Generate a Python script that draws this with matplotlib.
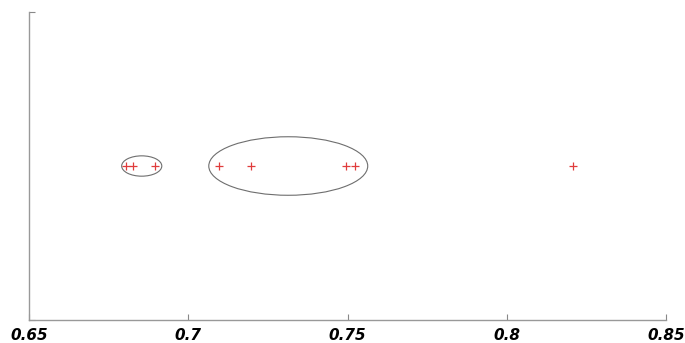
import matplotlib
matplotlib.use("Agg")
import matplotlib.pyplot as plt
from matplotlib.patches import Ellipse

# data
x_values = [0.6804, 0.6827, 0.6895, 0.7096, 0.7196, 0.7494, 0.7523, 0.8208]
y_values = [0.5, 0.5, 0.5, 0.5, 0.5, 0.5, 0.5, 0.5]
cluster_centers = [0.6854, 0.7314]
cluster_widths = [0.0126, 0.0499]
cluster_heights = [0.066, 0.19]
x_ticks = [0.65, 0.7, 0.75, 0.8, 0.85]
x_tick_labels = ["0.65", "0.7", "0.75", "0.8", "0.85"]

fig = plt.figure(figsize=(6.85, 3.43), dpi=100)
ax = fig.add_axes([0.0423, 0.067, 0.930, 0.898])

ax.plot(x_values, y_values, linestyle="none", marker="+", color="#e03c3c",
        markersize=6, markeredgewidth=0.9)

for cx, w, h in zip(cluster_centers, cluster_widths, cluster_heights):
    ax.add_patch(Ellipse((cx, 0.5), w, h, fill=False, edgecolor="#6e6e6e", linewidth=0.8))

ax.set_xlim(0.65, 0.85)
ax.set_ylim(0, 1)
ax.set_xticks(x_ticks)
ax.set_xticklabels(x_tick_labels, fontsize=11, fontweight="bold", fontstyle="italic",
                   family="DejaVu Sans")
ax.set_yticks([0, 1])
ax.set_yticklabels([])
ax.tick_params(axis="both", direction="in", length=4, width=0.8, color="#888888")
ax.tick_params(axis="x", pad=6)
for s in ["top", "right"]:
    ax.spines[s].set_visible(False)
for s in ["left", "bottom"]:
    ax.spines[s].set_color("#999999")
    ax.spines[s].set_linewidth(1.0)

fig.savefig("out.png", dpi=100)
